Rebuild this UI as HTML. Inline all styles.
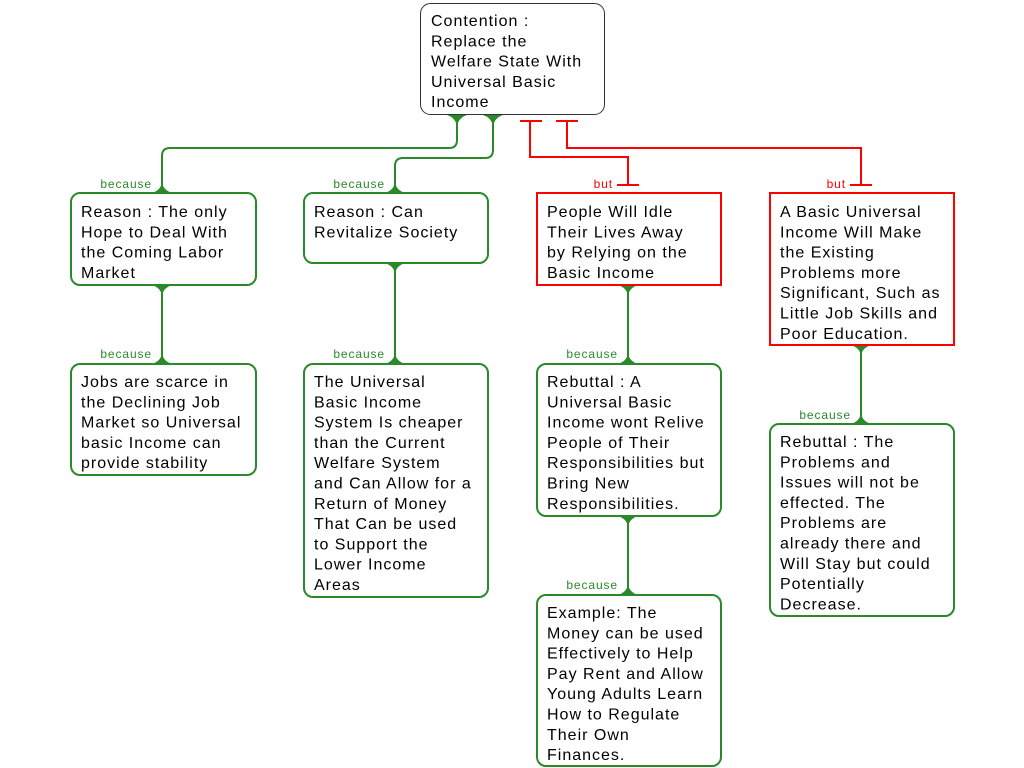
<!DOCTYPE html>
<html><head><meta charset="utf-8"><style>
html,body{margin:0;padding:0;background:#fff;}
svg{display:block;}
text{font-family:"Liberation Sans",sans-serif;}
.t{font-size:16px;fill:#000;letter-spacing:1px;}
.g{font-size:12px;fill:#2a8a2a;letter-spacing:0.9px;}
.r{font-size:12px;fill:#f00;letter-spacing:0.9px;}
</style></head><body>
<svg width="1024" height="768" viewBox="0 0 1024 768">
<g fill="none" stroke="#2a8a2a" stroke-width="2">
<path d="M457 115 V140 Q457 148 449 148 H170 Q162 148 162 156 V193"/>
<path d="M493 115 V150 Q493 158 485 158 H403 Q395 158 395 166 V193"/>
<path d="M162 285 V364"/>
<path d="M395 263 V364"/>
<path d="M628 285 V364"/>
<path d="M628 516 V595"/>
<path d="M861 345 V424"/>
</g>
<g fill="#2a8a2a">
<path d="M447 115 H467 Q458 118 457 127 Q456 118 447 115Z"/>
<path d="M483 115 H503 Q494 118 493 127 Q492 118 483 115Z"/>
<path d="M152 193 H172 Q163 190 162 182 Q161 190 152 193Z"/>
<path d="M385 193 H405 Q396 190 395 182 Q394 190 385 193Z"/>
<path d="M152 285 H172 Q163 288 162 296 Q161 288 152 285Z"/>
<path d="M152 364 H172 Q163 361 162 353 Q161 361 152 364Z"/>
<path d="M385 263 H405 Q396 266 395 274 Q394 266 385 263Z"/>
<path d="M385 364 H405 Q396 361 395 353 Q394 361 385 364Z"/>
<path d="M618 285 H638 Q629 288 628 296 Q627 288 618 285Z"/>
<path d="M618 364 H638 Q629 361 628 353 Q627 361 618 364Z"/>
<path d="M618 516 H638 Q629 519 628 527 Q627 519 618 516Z"/>
<path d="M618 595 H638 Q629 592 628 584 Q627 592 618 595Z"/>
<path d="M851 345 H871 Q862 348 861 356 Q860 348 851 345Z"/>
<path d="M851 424 H871 Q862 421 861 413 Q860 421 851 424Z"/>
</g>
<g fill="none" stroke="#f00" stroke-width="2">
<path d="M520 121 H542 M530 121 V157 H628 V185 M617 185 H639"/>
<path d="M556 121 H578 M567 121 V148 H861 V185 M850 185 H872"/>
</g>
<rect x="420.5" y="3.5" width="184" height="111" rx="10" fill="#fff" stroke="#333" stroke-width="1"/>
<g fill="#fff" stroke="#2a8a2a" stroke-width="2">
<rect x="71" y="193" width="185" height="92" rx="9"/>
<rect x="304" y="193" width="184" height="70" rx="9"/>
<rect x="71" y="364" width="185" height="111" rx="9"/>
<rect x="304" y="364" width="184" height="233" rx="9"/>
<rect x="537" y="364" width="184" height="152" rx="9"/>
<rect x="770" y="424" width="184" height="192" rx="9"/>
<rect x="537" y="595" width="184" height="171" rx="9"/>
</g>
<g fill="#fff" stroke="#f00" stroke-width="2">
<rect x="537" y="193" width="184" height="92"/>
<rect x="770" y="193" width="184" height="152"/>
</g>
<text class="g" x="152" y="188" text-anchor="end">because</text>
<text class="g" x="385" y="188" text-anchor="end">because</text>
<text class="g" x="152" y="358" text-anchor="end">because</text>
<text class="g" x="385" y="358" text-anchor="end">because</text>
<text class="g" x="618" y="358" text-anchor="end">because</text>
<text class="g" x="618" y="589" text-anchor="end">because</text>
<text class="g" x="851" y="419" text-anchor="end">because</text>
<text class="r" x="613" y="188" text-anchor="end">but</text>
<text class="r" x="846" y="188" text-anchor="end">but</text>
<text class="t" x="431" y="26"><tspan x="431">Contention :</tspan><tspan x="431" dy="20.3">Replace the</tspan><tspan x="431" dy="20.3">Welfare State With</tspan><tspan x="431" dy="20.3">Universal Basic</tspan><tspan x="431" dy="20.3">Income</tspan></text>
<text class="t" x="81" y="217"><tspan x="81">Reason : The only</tspan><tspan x="81" dy="20.3">Hope to Deal With</tspan><tspan x="81" dy="20.3">the Coming Labor</tspan><tspan x="81" dy="20.3">Market</tspan></text>
<text class="t" x="314" y="217"><tspan x="314">Reason : Can</tspan><tspan x="314" dy="20.3">Revitalize Society</tspan></text>
<text class="t" x="547" y="217"><tspan x="547">People Will Idle</tspan><tspan x="547" dy="20.3">Their Lives Away</tspan><tspan x="547" dy="20.3">by Relying on the</tspan><tspan x="547" dy="20.3">Basic Income</tspan></text>
<text class="t" x="780" y="217"><tspan x="780">A Basic Universal</tspan><tspan x="780" dy="20.3">Income Will Make</tspan><tspan x="780" dy="20.3">the Existing</tspan><tspan x="780" dy="20.3">Problems more</tspan><tspan x="780" dy="20.3">Significant, Such as</tspan><tspan x="780" dy="20.3">Little Job Skills and</tspan><tspan x="780" dy="20.3">Poor Education.</tspan></text>
<text class="t" x="81" y="387"><tspan x="81">Jobs are scarce in</tspan><tspan x="81" dy="20.3">the Declining Job</tspan><tspan x="81" dy="20.3">Market so Universal</tspan><tspan x="81" dy="20.3">basic Income can</tspan><tspan x="81" dy="20.3">provide stability</tspan></text>
<text class="t" x="314" y="387"><tspan x="314">The Universal</tspan><tspan x="314" dy="20.3">Basic Income</tspan><tspan x="314" dy="20.3">System Is cheaper</tspan><tspan x="314" dy="20.3">than the Current</tspan><tspan x="314" dy="20.3">Welfare System</tspan><tspan x="314" dy="20.3">and Can Allow for a</tspan><tspan x="314" dy="20.3">Return of Money</tspan><tspan x="314" dy="20.3">That Can be used</tspan><tspan x="314" dy="20.3">to Support the</tspan><tspan x="314" dy="20.3">Lower Income</tspan><tspan x="314" dy="20.3">Areas</tspan></text>
<text class="t" x="547" y="387"><tspan x="547">Rebuttal : A</tspan><tspan x="547" dy="20.3">Universal Basic</tspan><tspan x="547" dy="20.3">Income wont Relive</tspan><tspan x="547" dy="20.3">People of Their</tspan><tspan x="547" dy="20.3">Responsibilities but</tspan><tspan x="547" dy="20.3">Bring New</tspan><tspan x="547" dy="20.3">Responsibilities.</tspan></text>
<text class="t" x="780" y="447"><tspan x="780">Rebuttal : The</tspan><tspan x="780" dy="20.3">Problems and</tspan><tspan x="780" dy="20.3">Issues will not be</tspan><tspan x="780" dy="20.3">effected. The</tspan><tspan x="780" dy="20.3">Problems are</tspan><tspan x="780" dy="20.3">already there and</tspan><tspan x="780" dy="20.3">Will Stay but could</tspan><tspan x="780" dy="20.3">Potentially</tspan><tspan x="780" dy="20.3">Decrease.</tspan></text>
<text class="t" x="547" y="618"><tspan x="547">Example: The</tspan><tspan x="547" dy="20.3">Money can be used</tspan><tspan x="547" dy="20.3">Effectively to Help</tspan><tspan x="547" dy="20.3">Pay Rent and Allow</tspan><tspan x="547" dy="20.3">Young Adults Learn</tspan><tspan x="547" dy="20.3">How to Regulate</tspan><tspan x="547" dy="20.3">Their Own</tspan><tspan x="547" dy="20.3">Finances.</tspan></text>
</svg>
</body></html>
